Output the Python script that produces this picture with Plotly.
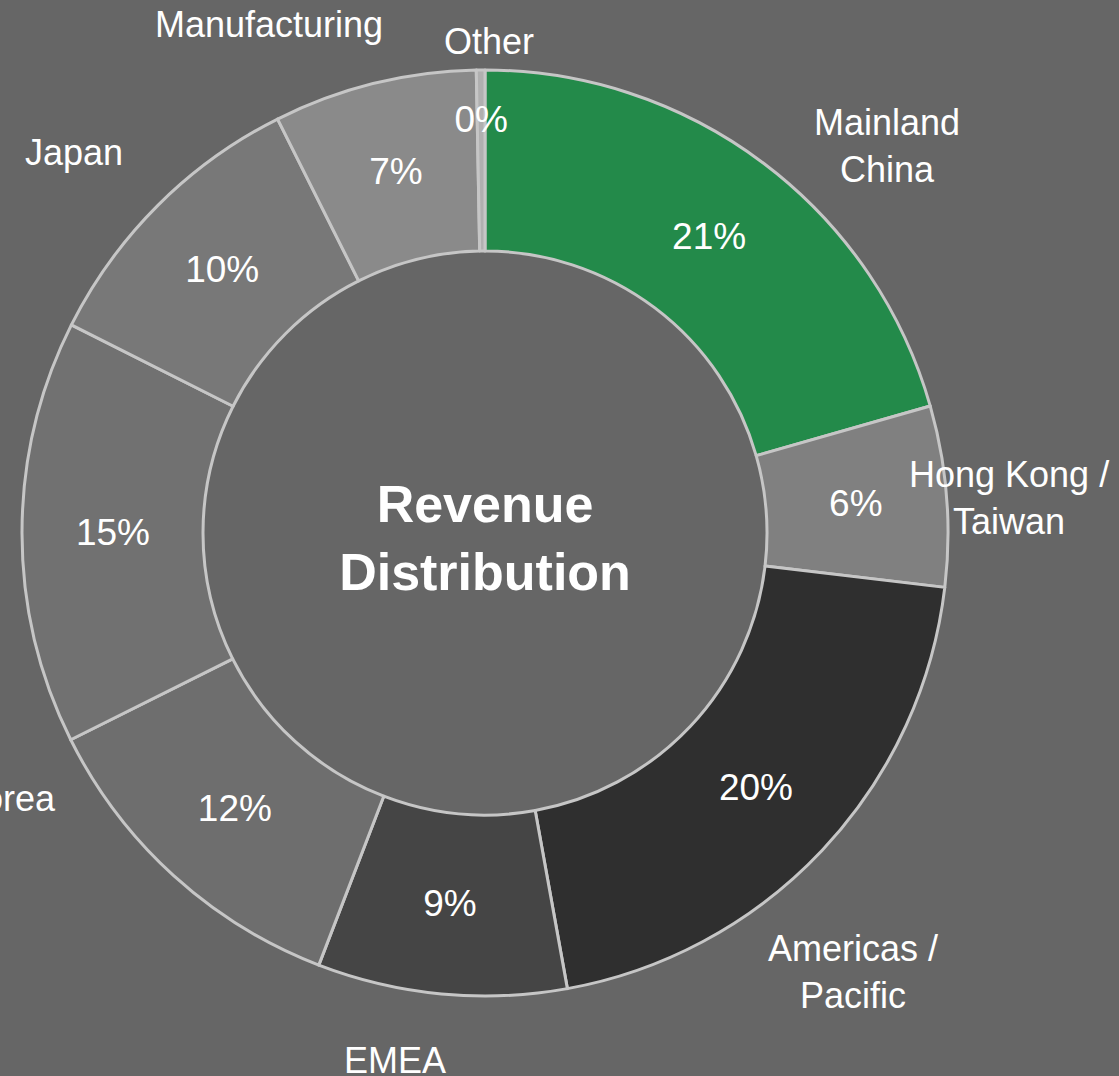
import math
import plotly.graph_objects as go

# ---- data ----
regions = ["Mainland<br>China", "Hong Kong /<br>Taiwan", "Americas /<br>Pacific", "EMEA",
           "Korea", "India", "Japan", "Manufacturing", "Other"]
shares = [20.6, 6.3, 20.3, 8.7, 11.8, 14.8, 10.2, 7.1, 0.3]
slice_colors = ["#238a4a", "#808080", "#2f2f2f", "#454545", "#6e6e6e",
                "#717171", "#787878", "#8a8a8a", "#b0b0b0"]
center_title = "Revenue<br>Distribution"

# ---- layout geometry (pixels) ----
W, H = 1119, 1076
CX, CY = 485, 533               # donut centre
R_OUT, R_IN = 463, 282          # ring radii
R_PCT_OUT, R_PCT_IN = 417, 327  # helper ring that carries the % text
# label placement around the ring: (angular nudge from slice middle in deg, radius px)
LABEL_PLACE = [(9.1, 558), (0.8, 525), (6.8, 573), (4.3, 535), (18.7, 546),
               (0.0, 560), (-2.3, 560), (-9.2, 553), (1.0, 492)]


def domain(r):
    return dict(x=[(CX - r) / W, (CX + r) / W],
                y=[1 - (CY + r) / H, 1 - (CY - r) / H])


FONT = "Liberation Sans, Arial, Helvetica, sans-serif"
transparent = ["rgba(0,0,0,0)"] * len(shares)

fig = go.Figure()

# visible donut
fig.add_trace(go.Pie(
    labels=regions, values=shares, sort=False, direction="clockwise", rotation=0,
    hole=R_IN / R_OUT, domain=domain(R_OUT),
    marker=dict(colors=slice_colors, line=dict(color="#c6c6c6", width=3)),
    textinfo="none", hoverinfo="label+percent", showlegend=False, automargin=False,
    title=dict(text="<b>" + center_title + "</b>", position="middle center",
               font=dict(family=FONT, size=52, color="white")),
))

# percentage text (transparent helper ring)
fig.add_trace(go.Pie(
    labels=regions, values=shares, sort=False, direction="clockwise", rotation=0,
    hole=R_PCT_IN / R_PCT_OUT, domain=domain(R_PCT_OUT),
    marker=dict(colors=transparent, line=dict(width=0)),
    texttemplate="%{percent:.0%}", textposition="inside",
    insidetextorientation="horizontal",
    textfont=dict(family=FONT, size=37, color="white"),
    hoverinfo="skip", showlegend=False, automargin=False,
))

# category labels around the ring, positioned from each slice's middle angle
total = sum(shares)
cum = 0.0
annotations = []
for lab, v, (dth, rl) in zip(regions, shares, LABEL_PLACE):
    mid = (cum + v / 2) / total * 360.0
    cum += v
    th = math.radians(mid + dth)
    px = CX + rl * math.sin(th)
    py = CY - rl * math.cos(th)
    annotations.append(dict(
        text=lab, x=px / W, y=1 - py / H, xref="paper", yref="paper",
        xanchor="center", yanchor="middle", align="center", showarrow=False,
        font=dict(family=FONT, size=36, color="white"),
    ))

fig.update_layout(
    width=W, height=H,
    margin=dict(l=0, r=0, t=0, b=0, pad=0, autoexpand=False),
    paper_bgcolor="#666666", plot_bgcolor="#666666",
    uniformtext=dict(minsize=37, mode="show"),
    font=dict(family=FONT, color="white"),
    annotations=annotations,
)

fig.write_html("out.html",
               config={"displayModeBar": False},
               post_script="document.body.style.margin='0';"
                           "document.body.style.overflow='hidden';"
                           "document.body.style.background='#666666';")
